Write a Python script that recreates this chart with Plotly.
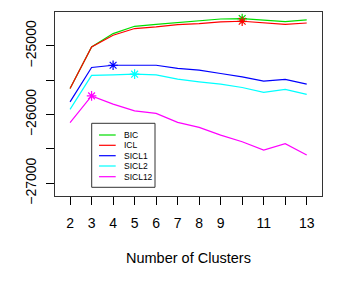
import plotly.graph_objects as go

clusters = [2, 3, 4, 5, 6, 7, 8, 9, 10, 11, 12, 13]
bic = [-25619, -25015, -24820, -24714, -24685, -24660, -24641, -24608, -24602, -24627, -24645, -24622]
icl = [-25619, -25015, -24845, -24747, -24724, -24689, -24674, -24651, -24641, -24660, -24685, -24666]
sicl1 = [-25814, -25314, -25281, -25281, -25281, -25328, -25353, -25401, -25451, -25513, -25488, -25557]
sicl2 = [-25924, -25430, -25422, -25411, -25422, -25484, -25523, -25557, -25605, -25677, -25634, -25706]
sicl12 = [-26116, -25727, -25847, -25945, -25983, -26113, -26186, -26298, -26395, -26516, -26424, -26589]

names = ["BIC", "ICL", "SICL1", "SICL2", "SICL12"]
colors = ["#00DD00", "#FF0000", "#0000FF", "#00FFFF", "#FF00FF"]
series = [bic, icl, sicl1, sicl2, sicl12]

x_tickvals = list(range(2, 14))
x_ticktext = ["2", "3", "4", "5", "6", "7", "8", "9", "", "11", "", "13"]
y_tickvals = [-27000, -26500, -26000, -25500, -25000]
y_ticktext = ["\u221227000", "", "\u221226000", "", "\u221225000"]

fig = go.Figure()
for name, col, vals in zip(names, colors, series):
    fig.add_trace(go.Scatter(x=clusters, y=vals, mode="lines", name=name,
                             line=dict(color=col, width=1.2), showlegend=False))
    i = max(range(len(vals)), key=lambda k: vals[k])
    fig.add_trace(go.Scatter(x=[clusters[i]], y=[vals[i]], mode="markers",
                             marker=dict(symbol="asterisk-open", size=8, color=col,
                                         line=dict(color=col, width=1.2)),
                             showlegend=False))

# page offset from default body margin
OFF = 8
W, H = 359, 286
L, T = 55 - OFF, 12 - OFF
R = W - (322 - OFF)
B = H - (196 - OFF)
pw, ph = W - L - R, H - T - B

def px(x):
    return (x - OFF - L) / pw

def py(y):
    return (H - B - (y - OFF)) / ph

shapes = [dict(type="rect", xref="paper", yref="paper",
               x0=px(91.7), x1=px(155), y0=py(187.3), y1=py(123.3),
               line=dict(color="#333333", width=1), fillcolor="white")]
annotations = []
rows = [135, 145.3, 155.7, 166, 176.7]
for name, col, ry in zip(names, colors, rows):
    shapes.append(dict(type="line", xref="paper", yref="paper",
                       x0=px(99), x1=px(115.7), y0=py(ry), y1=py(ry),
                       line=dict(color=col, width=1.2)))
    annotations.append(dict(text=name, xref="paper", yref="paper",
                            x=px(122), y=py(ry), xanchor="left", yanchor="middle",
                            showarrow=False, font=dict(size=8.5, color="black")))
annotations.append(dict(text="Number of Clusters", xref="paper", yref="paper",
                        x=px(188), y=py(258), xanchor="center", yanchor="middle",
                        showarrow=False, font=dict(size=14.5, color="black")))

fig.update_layout(
    width=W, height=H,
    margin=dict(l=L, r=R, t=T, b=B, pad=0, autoexpand=False),
    paper_bgcolor="white", plot_bgcolor="white",
    font=dict(family="Liberation Sans, Arial, sans-serif", color="black"),
    shapes=shapes, annotations=annotations,
)
fig.update_xaxes(range=[1.3, 13.71], tickvals=x_tickvals, ticktext=x_ticktext,
                 ticks="outside", ticklen=8, tickwidth=1, tickcolor="black",
                 showgrid=False, zeroline=False, showline=True, mirror=True,
                 linecolor="#333333", linewidth=1, tickfont=dict(size=14),
                 ticklabelstandoff=6, automargin=False)
fig.update_yaxes(range=[-27185, -24506], tickvals=y_tickvals, ticktext=y_ticktext,
                 ticks="outside", ticklen=8, tickwidth=1, tickcolor="black",
                 showgrid=False, zeroline=False, showline=True, mirror=True,
                 linecolor="#333333", linewidth=1, tickfont=dict(size=14),
                 tickangle=-90, ticklabelstandoff=4, automargin=False)

fig.write_html("out.html")
